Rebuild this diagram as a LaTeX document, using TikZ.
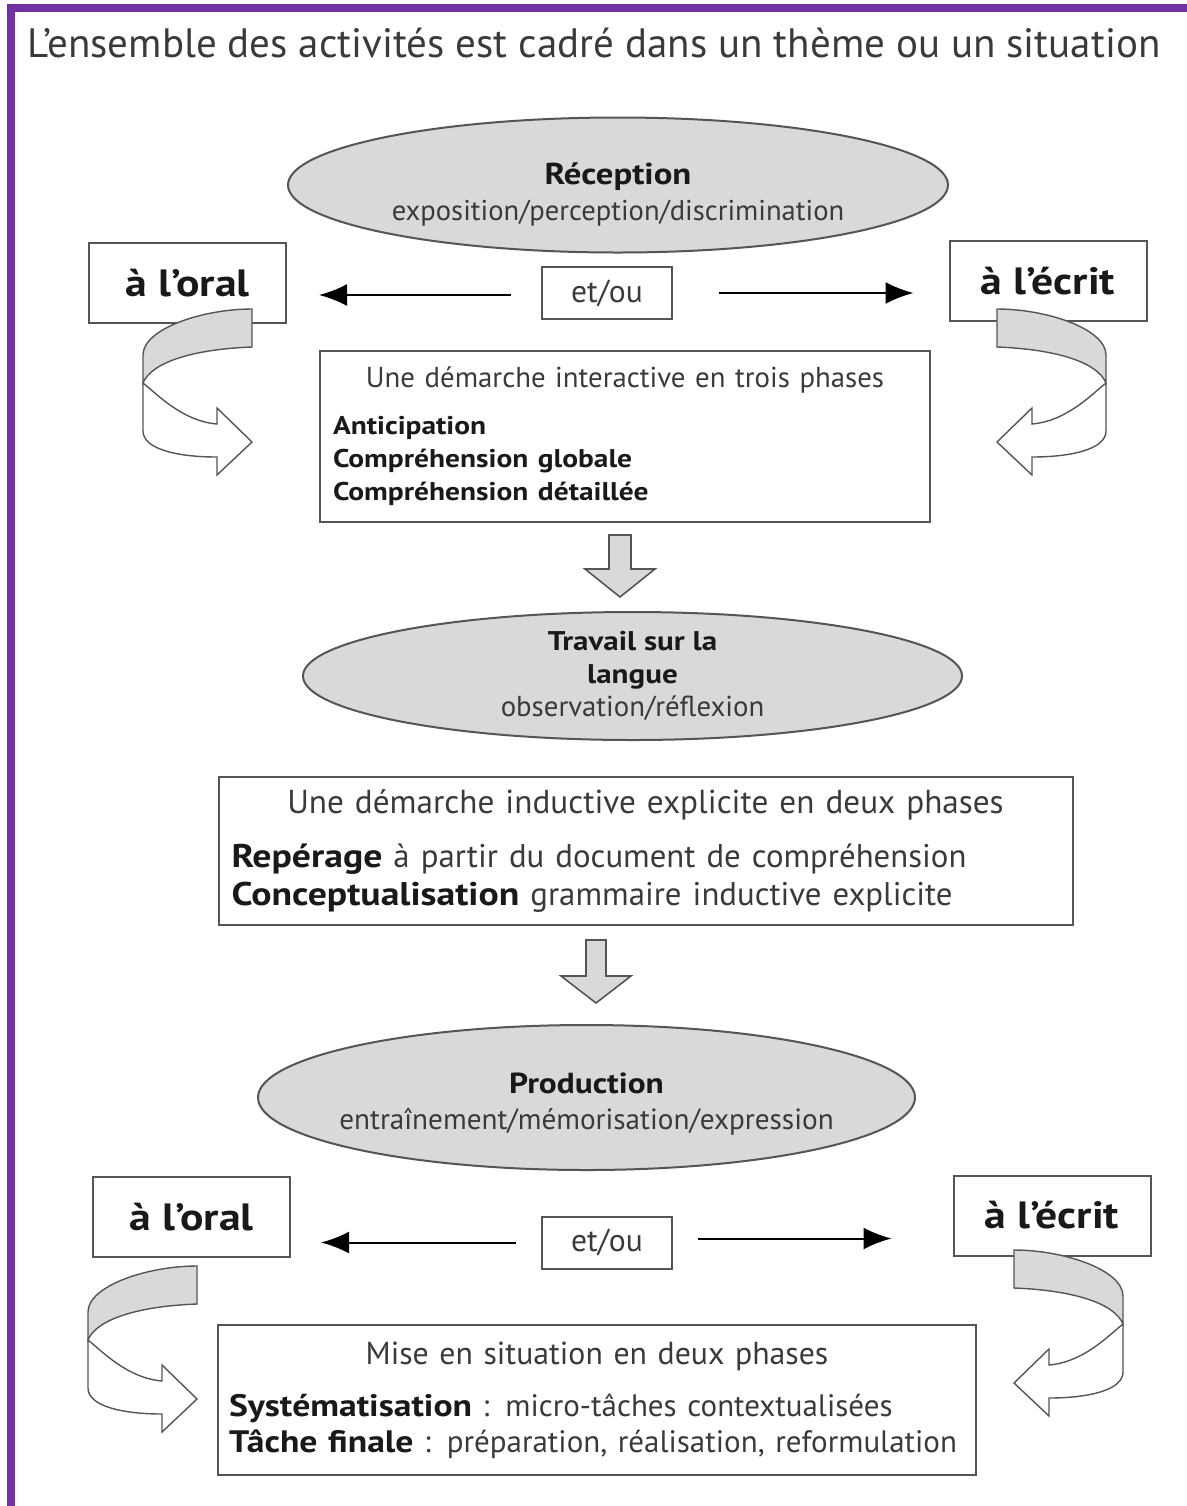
\documentclass[tikz,border=0pt]{standalone}
\usepackage{fontspec}
\setmainfont{PT Sans}[BoldFeatures={FakeStretch=1.15}]
\usepackage{tikz}
\usetikzlibrary{shapes.geometric}
\usetikzlibrary{arrows.meta}
\usetikzlibrary{positioning}
\definecolor{cadrepurple}{RGB}{114,50,162}
\definecolor{ovalgray}{RGB}{217,217,217}
\definecolor{edgegray}{RGB}{85,85,85}
\definecolor{textgray}{RGB}{58,58,58}
\definecolor{darktext}{RGB}{25,25,25}

\tikzset{
  turnarrow/.pic={
    \filldraw[fill=ovalgray,draw=edgegray,line width=0.7pt] (0,0) .. controls (-50,0) and (-109,20) .. (-109,46) -- (-109,74) .. controls (-100,52) and (-55,40) .. (0,38) -- cycle;
    \filldraw[fill=white,draw=edgegray,line width=0.7pt] (-109,74) -- (-109,122) .. controls (-109,140) and (-75,148) .. (-35,148) -- (-35,166) -- (0,133) -- (-35,99) -- (-35,115) .. controls (-70,112) and (-95,85) .. (-109,74) -- cycle;
  }
}

\begin{document}
\begin{tikzpicture}[x=0.5pt,y=-0.5pt,
  every node/.style={text=textgray},
  oval/.style={ellipse,draw=edgegray,line width=1pt,fill=ovalgray,inner sep=0pt,align=center},
  sidebox/.style={draw=edgegray,line width=1pt,minimum width=98.5pt,minimum height=40pt,
    font=\fontsize{19}{21}\selectfont\bfseries,text=darktext},
  etoubox/.style={draw=edgegray,line width=1pt,minimum width=65pt,minimum height=26pt,
    font=\fontsize{15.8}{18}\selectfont},
  phasebox/.style={draw=edgegray,line width=1pt,inner sep=6.5pt},
  sidearrow/.style={draw=black,line width=1pt,-{Latex[length=14pt,width=11pt]}},
  fatarrow/.style={draw=edgegray,line width=0.8pt,fill=ovalgray}]
  \useasboundingbox (0,0) rectangle (1187,1506);
  % cadre
  \fill[cadrepurple] (7,4) rectangle (1187,12);
  \fill[cadrepurple] (7,4) rectangle (15,1506);
  \node[anchor=base west,inner sep=0pt,font=\fontsize{20.5}{24}\selectfont] (theme) at (27,57)
    {L’ensemble des activités est cadré dans un thème ou un situation};

  % reception
  \node[oval,minimum width=330pt,minimum height=67.5pt,font=\fontsize{14.3}{18}\selectfont] (recep) at (618,185)
    {{\rule{0pt}{20pt}\fontsize{15.1}{18}\selectfont\bfseries\color{darktext}Réception}\\
     exposition/perception/discrimination};
  \node[sidebox] (oral1) at (187.5,283) {à l’oral};
  \node[sidebox] (ecrit1) at (1048,281) {à l’écrit};
  \node[etoubox] (etou1) at (607,293) {et/ou};
  \draw[sidearrow,shorten <=15pt,shorten >=16pt] ([yshift=-1pt]etou1.west) -- ([yshift=-1pt]etou1.west -| oral1.east);
  \draw[sidearrow,shorten <=23pt,shorten >=17.5pt] (etou1.east) -- (etou1.east -| ecrit1.west);

  \node[phasebox,text width=292pt,minimum height=85.5pt,font=\fontsize{14.4}{16.5}\selectfont] (inter) at (625,436.5)
    {\centering Une démarche interactive en trois phases\par\vspace{7pt}
     \raggedright\fontsize{12.8}{16.5}\selectfont\bfseries\color{darktext}Anticipation\\Compréhension globale\\Compréhension détaillée\par};
  \pic at (252,309) {turnarrow};
  \pic[xscale=-1] at (997,309) {turnarrow};

  \coordinate (drop1) at (620,535);
  \draw[fatarrow] (drop1) ++(-11,0) -- ++(22,0) -- ++(0,34) -- ++(24,0) -- ++(-35,28) -- ++(-35,-28) -- ++(24,0) -- cycle;

  % langue
  \node[oval,minimum width=329.5pt,minimum height=64pt,font=\fontsize{14.4}{16.7}\selectfont] (langue) at (632.5,676)
    {{\fontsize{13.5}{16}\selectfont\bfseries\color{darktext}Travail sur la}\\
     {\fontsize{13.5}{16}\selectfont\bfseries\color{darktext}langue}\\
     observation/réflexion};

  \node[phasebox,text width=414pt,minimum height=74pt,font=\fontsize{16.6}{19}\selectfont] (induct) at (645.5,851)
    {\centering Une démarche inductive explicite en deux phases\par\vspace{8pt}
     \raggedright\fontsize{16.4}{19}\selectfont
     \textcolor{darktext}{\bfseries Repérage} à partir du document de compréhension\\
     \textcolor{darktext}{\bfseries Conceptualisation} grammaire inductive explicite\par};

  \coordinate (drop2) at (596,940);
  \draw[fatarrow] (drop2) ++(-10,0) -- ++(20,0) -- ++(0,36) -- ++(25,0) -- ++(-35,27) -- ++(-35,-27) -- ++(25,0) -- cycle;

  % production
  \node[oval,minimum width=328.5pt,minimum height=72.5pt,inner xsep=-8pt,font=\fontsize{14.6}{18}\selectfont] (prod) at (586.5,1097.5)
    {{\rule{0pt}{16.5pt}\fontsize{14.5}{18}\selectfont\bfseries\color{darktext}Production}\\
     entraînement/mémorisation/expression};
  \node[sidebox] (oral2) at (191.5,1217) {à l’oral};
  \node[sidebox] (ecrit2) at (1052,1215.5) {à l’écrit};
  \node[etoubox] (etou2) at (607,1242.5) {et/ou};
  \draw[sidearrow,shorten <=12.5pt,shorten >=15pt] (etou2.west) -- (etou2.west -| oral2.east);
  \draw[sidearrow,shorten <=12.5pt,shorten >=30.5pt] ([yshift=2pt]etou2.east) -- ([yshift=2pt]etou2.east -| ecrit2.west);

  \node[phasebox,text width=368pt,minimum height=75pt,font=\fontsize{15.9}{18}\selectfont,inner sep=5.5pt] (mise) at (597,1400)
    {\centering Mise en situation en deux phases\par\vspace{8pt}
     \raggedright\fontsize{15.5}{18}\selectfont
     \textcolor{darktext}{\bfseries Systématisation} : micro-tâches contextualisées\\
     \textcolor{darktext}{\bfseries Tâche finale} : préparation, réalisation, reformulation\par};
  \pic at (197,1266) {turnarrow};
  \pic[xscale=-1] at (1014,1250) {turnarrow};
\end{tikzpicture}
\end{document}
